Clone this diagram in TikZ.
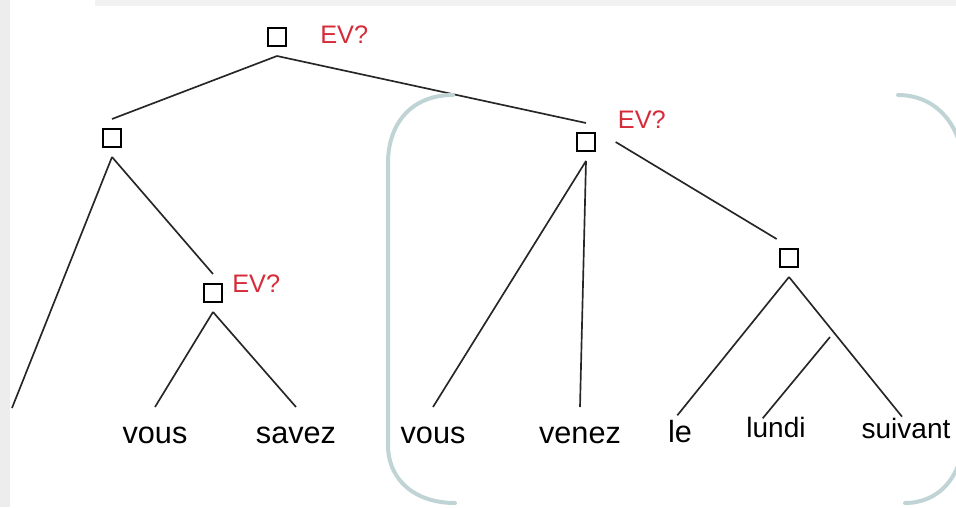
\documentclass[tikz,border=0pt]{standalone}
\usepackage{fontspec}
\setmainfont{Liberation Sans}
\usepackage{xcolor}
\usepackage{tikz}
\usetikzlibrary{positioning}
\definecolor{evred}{RGB}{214,44,58}
\definecolor{bracketgray}{RGB}{192,212,214}

\begin{document}
\begin{tikzpicture}[x=0.75pt, y=-0.75pt,
	tree node/.style={rectangle, draw, line width=1.2pt, minimum size=13.5pt, inner sep=0pt, outer sep=7.5pt},
	ev label/.style={text=evred, font=\fontsize{19}{22}\selectfont, inner sep=0pt},
	word/.style={anchor=base, inner sep=0pt, font=\fontsize{23}{27}\selectfont, text height=12pt, text depth=0pt, outer ysep=15pt},
	small word/.style={word, font=\fontsize{21}{25}\selectfont},
	branch/.style={draw=black!85, line width=1.25pt},
	bracket/.style={draw=bracketgray, line width=3pt, line cap=round},
]
\useasboundingbox (0,0) rectangle (956,507);
\clip (0,0) rectangle (956,507);
\fill [black!7] (0,0) rectangle (10,507);
\fill [black!5] (95,0) rectangle (956,6);
%
\node [tree node] at (277,37) (root) {};
\node [ev label] (evRoot) [right=18pt of root, yshift=2pt] {EV?};
\node [tree node] at (112,138) (left) {};
\node [tree node] at (213,293) (mid) {};
\node [ev label] (evMid) [right=0pt of mid, yshift=7pt] {EV?};
\node [tree node] at (586,142) (right) {};
\node [ev label] (evRight) [right=9.5pt of right, yshift=17pt] {EV?};
\node [tree node] at (789,258) (last) {};
%
\node [word] at (155,443) (vous) {vous};
\node [word] at (296,443) (savez) {savez};
\node [word] at (433,443) (vousB) {vous};
\node [word] at (580,443) (venez) {venez};
\node [word] at (680,442) (le) {le};
\node [small word] at (776,437) (lundi) {lundi};
\node [small word] at (906,438) (suivant) {suivant};
\coordinate (cut) at (12,408);
\coordinate (lundiTop) at (830,337);
%
\draw [branch] (root.south) -- (left.north);
\draw [branch] (root.south) -- (right.north);
\draw [branch] (left.south) -- (cut);
\draw [branch] (left.south) -- (mid.north);
\draw [branch] (mid.south) -- (vous.north);
\draw [branch] (mid.south) -- (savez.north);
\draw [branch] (right.south) -- (vousB.north);
\draw [branch] (right.south) -- (venez.north);
\draw [branch] ([xshift=8pt]right.east) -- ([xshift=5pt]last.north west);
\draw [branch] (last.south) -- ([xshift=-2pt, yshift=-7pt]le.north);
\draw [branch] (last.south) -- ([xshift=-3pt, yshift=-11pt]suivant.north);
\draw [branch] (lundiTop) -- ([xshift=-10pt, yshift=-13pt]lundi.north);
%
\draw [bracket] (453,95) .. controls (410,95) and (388,125) .. (388,163) -- (388,445) .. controls (388,480) and (415,503) .. (455,503);
\draw [bracket] (898,95) .. controls (936,95) and (964,125) .. (964,175) -- (964,430) .. controls (964,478) and (938,503) .. (905,503);
\end{tikzpicture}
\end{document}
